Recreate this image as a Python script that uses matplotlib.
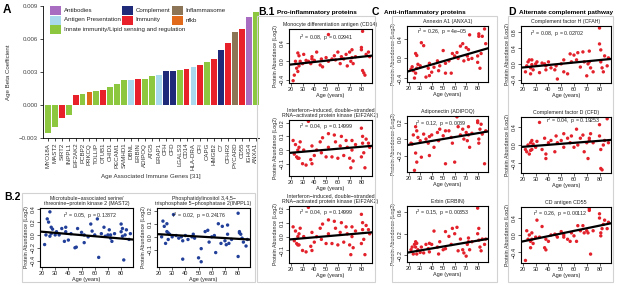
import matplotlib
matplotlib.use("Agg")
import matplotlib.pyplot as plt
from matplotlib.patches import Rectangle
import numpy as np

plt.rcParams['font.family'] = ['Liberation Sans', 'DejaVu Sans']
HEAD_FS = 4.6

# ---------------- Panel A data ----------------
genes = ["MYO18A", "MAST2", "SIRT2", "INPPL1", "EIF2AK2", "PCBP2", "PRKCQ", "TOLLIP",
         "OTUB1", "CHID1", "PECAM1", "SAMHD1", "DBNL", "ERBIN", "ADIPOQ", "ATG5",
         "ERAP1", "CFH", "CFD", "LGALS3", "CD14", "HLA-DRA", "CFI", "CAPG", "HMGB2",
         "C7", "CFHR2", "PYCARD", "CD55", "IGHG4", "ANXA1"]
beta = [-0.0025, -0.0020, -0.0012, -0.0009, 0.0009, 0.0010, 0.0012, 0.00125,
        0.0014, 0.0016, 0.0019, 0.0023, 0.0023, 0.0024, 0.0024, 0.0026,
        0.0027, 0.0031, 0.0031, 0.0032, 0.0033, 0.0035, 0.0036, 0.0039, 0.0042,
        0.0050, 0.0056, 0.0066, 0.0069, 0.0080, 0.0085]
gene_cat = ["Innate", "Innate", "Immunity", "Innate", "Immunity", "Innate", "nfkb", "Innate",
            "Immunity", "Innate", "Innate", "Innate", "Antigen", "Immunity", "Innate", "Innate",
            "Antigen", "Complement", "Complement", "Innate", "Immunity", "Antigen", "Immunity",
            "Innate", "Immunity", "Complement", "Immunity", "Inflammasome", "Immunity",
            "Antibodies", "Innate"]
cat_colors = {"Antibodies": "#a86cc1", "Complement": "#1f2a78", "Inflammasome": "#8c7456",
              "Antigen": "#a9d9ec", "Immunity": "#e8202a", "nfkb": "#e0691c",
              "Innate": "#8dc63f"}
legend_rows = [[("Antibodies", "Antibodies"), ("Complement", "Complement"), ("Inflammasome", "Inflammasome")],
               [("Antigen", "Antigen Presentation"), ("Immunity", "Immunity"), ("nfkb", "nfkb")],
               [("Innate", "Innate immunity/Lipid sensing and regulation")]]

# ---------------- Scatter data (shared cohort ages) ----------------
ages = [22, 23, 24, 25, 26, 26, 27, 27, 28, 30, 31, 33, 35, 37, 38, 38, 40, 42, 45, 46,
        47, 50, 52, 52, 55, 57, 58, 60, 62, 63, 65, 67, 68, 70, 71, 72, 72, 73, 75, 80,
        80, 81, 81, 82, 83, 84, 86, 87]

mast2 = [-0.15, 0.0, 0.25, 0.2, -0.02, 0.36, 0.12, 0.02, 0.09, 0.0, 0.05, 0.0, 0.1, -0.1,
         0.12, 0.05, -0.08, 0.02, -0.2, -0.19, 0.1, 0.04, -0.12, 0.0, -0.03, 0.17, 0.06, 0.0,
         0.25, -0.35, 0.02, 0.12, -0.02, 0.0, 0.08, -0.05, 0.0, -0.1, 0.02, 0.17, 0.05, 0.1,
         -0.02, -0.39, 0.0, 0.08, -0.07, 0.02]
inppl1 = [0.0, 0.12, 0.08, -0.05, 0.04, 0.1, 0.03, -0.02, 0.02, 0.0, 0.17, 0.01, -0.01, 0.0,
          -0.17, -0.03, 0.01, -0.02, 0.0, 0.02, -0.01, -0.16, -0.19, -0.09, 0.04, 0.05, -0.04,
          0.0, 0.01, -0.12, 0.1, -0.05, 0.08, -0.03, -0.06, 0.02, 0.09, -0.05, -0.02, 0.18,
          -0.15, 0.04, 0.03, 0.02, -0.01, -0.04, -0.07, -0.02]
cd14 = [-0.42, -0.3, 0.0, -0.15, -0.22, 0.18, 0.12, -0.1, 0.0, -0.05, 0.15, 0.02, 0.0, -0.05,
        0.05, 0.1, 0.02, 0.2, -0.08, 0.05, -0.12, 0.08, 0.58, 0.0, 0.05, 0.12, 0.03, 0.2,
        -0.05, 0.1, 0.05, 0.15, -0.1, 0.2, 0.0, 0.08, 0.25, -0.05, 0.1, 0.25, 0.3, 0.65,
        -0.2, -0.25, -0.3, 0.15, 0.2, 0.1]
eif2ak2 = [0.07, -0.03, 0.04, -0.05, -0.06, 0.0, 0.02, -0.06, 0.06, -0.1, 0.0, -0.11, 0.21,
           -0.07, -0.1, 0.03, -0.04, 0.0, 0.06, -0.02, 0.09, -0.05, 0.12, 0.02, -0.05, 0.11,
           0.06, -0.06, 0.03, 0.1, -0.04, 0.07, 0.02, -0.06, -0.13, 0.07, 0.0, -0.08, 0.04,
           0.16, -0.05, 0.1, 0.05, -0.02, -0.13, 0.08, 0.05, 0.02]
anxa1 = [-0.22, -0.17, -0.25, -0.4, 0.1, -0.3, 0.06, -0.2, -0.12, -0.15, 0.32, 0.26, -0.38,
         -0.2, -0.35, -0.1, -0.28, -0.18, -0.05, -0.25, -0.15, 0.16, -0.1, -0.3, -0.05, -0.3,
         0.1, 0.05, 0.12, 0.0, 0.25, 0.3, -0.05, 0.22, 0.05, 0.18, -0.02, 0.48, 0.0, 0.05,
         -0.08, 0.45, 0.5, -0.2, 0.1, 0.45, 0.6, 0.3]
adipoq = [-0.05, -0.06, 0.05, -0.38, 0.15, -0.17, 0.1, -0.28, 0.02, -0.02, -0.22, 0.06, 0.0,
          -0.05, -0.2, 0.03, 0.05, -0.1, 0.08, -0.02, 0.12, 0.04, -0.3, 0.1, 0.1, 0.02, -0.05,
          -0.28, 0.27, 0.15, 0.05, 0.12, 0.0, 0.08, -0.02, 0.15, 0.05, -0.1, 0.07, 0.2, 0.22,
          0.0, -0.05, 0.12, 0.18, 0.06, -0.3, 0.1]
erbin = [-0.1, -0.05, -0.18, 0.0, -0.05, 0.05, -0.18, 0.02, -0.1, -0.15, -0.05, -0.16, 0.0,
         -0.08, 0.02, -0.14, 0.0, 0.25, -0.05, -0.18, 0.05, -0.1, 0.24, -0.08, 0.15, 0.0, 0.3,
         0.2, 0.32, -0.12, 0.1, -0.1, -0.16, -0.22, 0.0, 0.12, 0.05, -0.1, 0.05, 0.68, 0.2,
         0.3, 0.08, -0.05, -0.12, 0.1, 0.0, 0.1]
cfah = [-0.2, -0.05, 0.05, 0.1, -0.25, -0.1, 0.1, -0.02, -0.15, 0.0, 0.05, -0.22, 0.02, 0.0,
        -0.15, -0.05, 0.05, -0.1, -0.15, -0.05, -0.38, 0.0, 0.1, -0.2, -0.25, 0.25, 0.05, 0.22,
        0.1, 0.28, -0.08, 0.3, 0.05, -0.3, 0.0, 0.32, 0.05, -0.1, -0.2, 0.9, 0.5, 0.35, 0.05,
        -0.1, -0.2, 0.2, -0.05, 0.15]
cfd = [-0.1, -0.15, 0.0, -0.2, 0.05, -0.12, -0.1, 0.1, 0.02, -0.05, 0.08, 0.5, -0.1, 0.15,
       -0.2, -0.3, 0.05, 0.1, -0.15, 0.2, 0.05, 0.1, 0.25, -0.05, 0.15, 0.05, 0.2, -0.05, 0.35,
       0.0, 0.15, 0.22, -0.15, 0.05, -0.3, 0.15, 0.1, 0.25, 0.05, 0.45, 0.2, -0.1, -0.52,
       -0.55, 0.0, 0.1, 0.58, 0.05]
cd55 = [-0.6, 0.1, -0.1, 0.0, -0.3, -0.15, -0.1, 0.05, -0.2, -0.05, 0.35, -0.05, 0.2, -0.3,
        -0.35, -0.1, -0.15, 0.0, 0.02, 0.0, -0.05, 0.08, 0.0, -0.05, -0.1, -0.15, 0.05, -0.02,
        -0.15, 0.22, 0.1, 0.22, 0.05, 0.1, 0.05, 0.62, 0.58, -0.45, 0.1, 0.4, 0.5, 0.05, -0.02,
        0.15, 0.25, 0.35, 0.15, 0.3]

# fitted regression lines: (value at age 20, value at age 88)
fit_mast2 = (0.05, -0.07)
fit_inppl1 = (0.02, -0.02)
fit_cd14 = (-0.07, 0.12)
fit_eif2ak2 = (-0.02, 0.03)
fit_anxa1 = (-0.26, 0.2)
fit_adipoq = (-0.07, 0.09)
fit_erbin = (-0.15, 0.1)
fit_cfah = (-0.09, 0.12)
fit_cfd = (-0.04, 0.11)
fit_cd55 = (-0.15, 0.27)

W, H = 617, 285
fig = plt.figure(figsize=(W / 100, H / 100), dpi=100)

RED = "#e3212b"
BLUE = "#22409a"
TXT = "#222222"
FS = 3.8
TICK_FS = 4.0


def ax_at(l, t, r, b):
    return fig.add_axes([l / W, 1 - b / H, (r - l) / W, (b - t) / H])


def fx(x):
    return x / W


def fy(y):
    return 1 - y / H


def box(l, t, r, b):
    fig.add_artist(Rectangle((fx(l), fy(b)), (r - l) / W, (b - t) / H, transform=fig.transFigure,
                             fill=False, edgecolor="#d2d2d2", lw=0.8))


def header(x_letter, x_text, letter, text):
    fig.text(fx(x_letter), fy(12), letter, fontsize=7.5, fontweight="bold", va="center", ha="left")
    fig.text(fx(x_text), fy(12.5), text, fontsize=HEAD_FS, fontweight="bold", va="center", ha="left")


# ---------------- Panel A ----------------
axA = ax_at(43, 6, 259, 138)
xs = np.arange(len(genes))
axA.bar(xs, beta, width=0.84, color=[cat_colors[c] for c in gene_cat], edgecolor="none")
axA.set_xlim(-0.7, len(genes) - 0.55)
axA.set_ylim(-0.003, 0.009)
axA.set_yticks([-0.003, 0.0, 0.003, 0.006, 0.009])
axA.set_yticklabels(["\u22120.003", "0.000", "0.003", "0.006", "0.009"], fontsize=4.4, color="#444444")
axA.set_xticks(xs)
axA.set_xticklabels(genes, rotation=90, fontsize=4.4, color="#333333")
for s in ["top", "right"]:
    axA.spines[s].set_visible(False)
axA.spines["left"].set_linewidth(0.6)
axA.spines["bottom"].set_linewidth(0.6)
axA.tick_params(length=2, width=0.5, pad=1.5)
axA.set_ylabel("Age Beta Coefficient", fontsize=4.4, color="#333333", labelpad=6)
axA.set_xlabel("Age Associated Immune Genes [31]", fontsize=4.5, color="#333333", labelpad=3)
fig.text(fx(3), fy(10), "A", fontsize=8.5, fontweight="bold", va="center", ha="left")

# legend
col_x = [50, 122, 172]
row_y = [10.5, 20, 29.5]
for ri, row in enumerate(legend_rows):
    for ci, (key, label) in enumerate(row):
        x0 = col_x[ci]
        y0 = row_y[ri]
        fig.add_artist(Rectangle((fx(x0), fy(y0 + 4.5)), 10.5 / W, 9 / H, transform=fig.transFigure,
                                 facecolor=cat_colors[key], edgecolor="none"))
        fig.text(fx(x0 + 13.5), fy(y0), label, fontsize=4.4, va="center", ha="left", color=TXT)


def scatter_panel(l, t, r, b, title, vals, fit, ylim, yticks, ann, ann_xy, color=RED):
    ax = ax_at(l, t, r, b)
    ax.scatter(ages, vals, s=6, color=color, edgecolors="none", zorder=2)
    xl = np.array([18.5, 89.0])
    slope = (fit[1] - fit[0]) / (88 - 20)
    ax.plot(xl, fit[0] + slope * (xl - 20), color="black", lw=1.6, zorder=3)
    ax.set_xlim(18.5, 89)
    ax.set_ylim(*ylim)
    ax.set_xticks([20, 30, 40, 50, 60, 70, 80])
    ax.set_yticks(yticks)
    ax.set_yticklabels([("%.1f" % v).replace("-", "\u2212") for v in yticks], rotation=90, va="center")
    ax.tick_params(labelsize=TICK_FS, length=2, width=0.5, pad=1, colors="#222222")
    for s in ax.spines.values():
        s.set_linewidth(0.8)
    ax.set_xlabel("Age (years)", fontsize=FS + 0.2, labelpad=0.5, color=TXT)
    ax.set_ylabel("Protein Abundance (Log2)", fontsize=FS, labelpad=1, color=TXT)
    ax.set_title(title, fontsize=FS, pad=2.5, color=TXT, linespacing=1.0)
    ax.text(ann_xy[0], ann_xy[1], ann, transform=ax.transAxes, fontsize=FS, ha="left", va="center", color=TXT)
    return ax


# ---------------- Boxes ----------------
box(22, 193, 255, 282)
box(257, 16, 375, 282)
box(392, 16, 497, 282)
box(508, 16, 613, 282)

# ---------------- Panel B.2 ----------------
fig.text(fx(4), fy(197), "B.2", fontsize=7.5, fontweight="bold", va="center", ha="left")
scatter_panel(40, 208, 133, 267,
              "Microtubule\u2212associated serine/\nthreonine\u2212protein kinase 2 (MAST2)",
              mast2, fit_mast2, (-0.5, 0.42), [-0.4, -0.2, 0.0, 0.2, 0.4],
              "r$^2$ = 0.05,  p = 0.13872", (0.25, 0.86), color=BLUE)
scatter_panel(157, 208, 250, 267,
              "Phosphatidylinositol 3,4,5\u2212\ntrisphosphate 5\u2212phosphatase 2(INPPL1)",
              inppl1, fit_inppl1, (-0.23, 0.22), [-0.1, 0.0, 0.1, 0.2],
              "r$^2$ = 0.02,  p = 0.24176", (0.16, 0.86), color=BLUE)

# ---------------- Panel B.1 ----------------
header(258, 277, "B.1", "Pro-inflammatory proteins")
scatter_panel(289, 29, 372, 83, "Monocyte differentiation antigen (CD14)",
              cd14, fit_cd14, (-0.47, 0.7), [-0.4, 0.0, 0.4],
              "r$^2$ = 0.08,  p = 0.02941", (0.12, 0.84))
eif_title = "Interferon\u2212induced, double\u2212stranded\nRNA\u2212activated protein kinase (EIF2AK2)"
scatter_panel(289, 120, 372, 176, eif_title,
              eif2ak2, fit_eif2ak2, (-0.19, 0.22), [-0.1, 0.0, 0.1, 0.2],
              "r$^2$ = 0.04,  p = 0.14999", (0.12, 0.88))
scatter_panel(289, 206, 372, 263, eif_title,
              eif2ak2, fit_eif2ak2, (-0.19, 0.22), [-0.1, 0.0, 0.1, 0.2],
              "r$^2$ = 0.04,  p = 0.14999", (0.12, 0.88))

# ---------------- Panel C ----------------
header(372, 384, "C", "Anti-inflammatory proteins")
scatter_panel(407, 26, 488, 82, "Annexin A1 (ANXA1)",
              anxa1, fit_anxa1, (-0.48, 0.66), [-0.4, 0.0, 0.4],
              "r$^2$ = 0.26,  p = 4e\u221205", (0.12, 0.9))
scatter_panel(407, 116, 488, 172, "Adiponectin (ADIPOQ)",
              adipoq, fit_adipoq, (-0.4, 0.28), [-0.2, 0.0, 0.2],
              "r$^2$ = 0.12,  p = 0.0089", (0.1, 0.86))
scatter_panel(407, 206, 488, 262, "Erbin (ERBIN)",
              erbin, fit_erbin, (-0.33, 0.72), [-0.2, 0.2, 0.6],
              "r$^2$ = 0.15,  p = 0.00353", (0.1, 0.88))

# ---------------- Panel D ----------------
header(508, 519, "D", "Alternate complement pathway")
scatter_panel(521, 26, 611, 83, "Complement factor H (CFAH)",
              cfah, fit_cfah, (-0.48, 0.95), [-0.4, 0.0, 0.4, 0.8],
              "r$^2$ = 0.08,  p = 0.02702", (0.1, 0.86))
scatter_panel(521, 117, 611, 173, "Complement factor D (CFD)",
              cfd, fit_cfd, (-0.62, 0.62), [-0.4, 0.0, 0.4],
              "r$^2$ = 0.04,  p = 0.19253", (0.28, 0.93))
scatter_panel(521, 207, 611, 263, "CD antigen CD55",
              cd55, fit_cd55, (-0.66, 0.66), [-0.4, 0.0, 0.4],
              "r$^2$ = 0.26,  p = 0.00112", (0.13, 0.88))

fig.savefig("out.png", dpi=100)
